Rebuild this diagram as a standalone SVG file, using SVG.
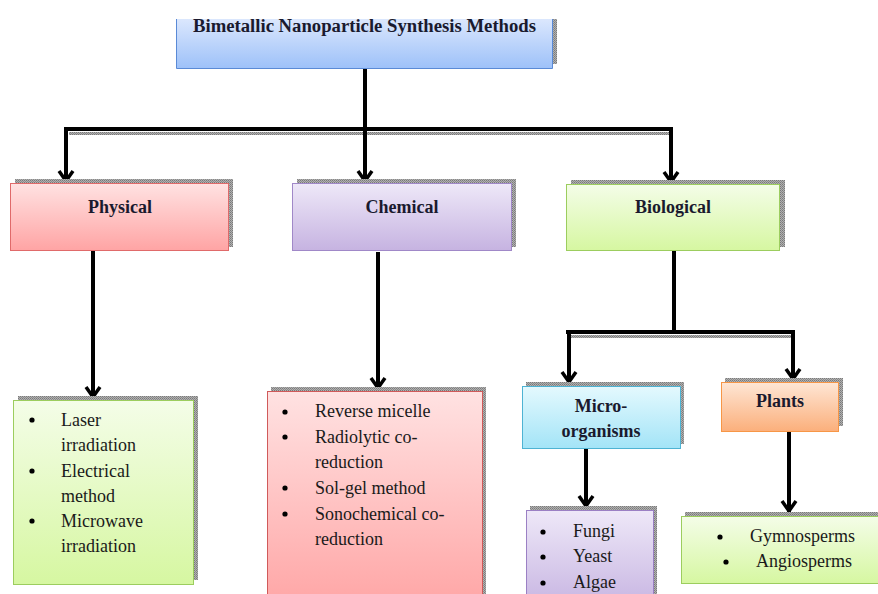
<svg xmlns="http://www.w3.org/2000/svg" width="878" height="594" viewBox="0 0 878 594">
<defs>
<linearGradient id="gBlue" x1="0" y1="0" x2="0" y2="1"><stop offset="0" stop-color="#dbe7fd"/><stop offset="1" stop-color="#9dc1f9"/></linearGradient>
<linearGradient id="gPink" x1="0" y1="0" x2="0" y2="1"><stop offset="0" stop-color="#ffe2e2"/><stop offset="1" stop-color="#ffa4a4"/></linearGradient>
<linearGradient id="gPurple" x1="0" y1="0" x2="0" y2="1"><stop offset="0" stop-color="#eee8f8"/><stop offset="1" stop-color="#c6b3e1"/></linearGradient>
<linearGradient id="gGreen" x1="0" y1="0" x2="0" y2="1"><stop offset="0" stop-color="#f4fde8"/><stop offset="1" stop-color="#d6f7a1"/></linearGradient>
<linearGradient id="gCyan" x1="0" y1="0" x2="0" y2="1"><stop offset="0" stop-color="#e4f9fe"/><stop offset="1" stop-color="#a3e4f7"/></linearGradient>
<linearGradient id="gOrange" x1="0" y1="0" x2="0" y2="1"><stop offset="0" stop-color="#fee6d5"/><stop offset="1" stop-color="#fbaf7b"/></linearGradient>
<pattern id="shade" width="2" height="2" patternUnits="userSpaceOnUse"><rect width="2" height="2" fill="#b0b0b0"/><rect width="1" height="1" fill="#7a7a7a"/><rect x="1" y="1" width="1" height="1" fill="#8a8a8a"/></pattern>
<marker id="arr" markerUnits="userSpaceOnUse" markerWidth="20" markerHeight="20" refX="0" refY="0" viewBox="-14 -10 16 20" orient="auto" overflow="visible">
<path d="M-11,-7 L-1,0 L-11,7" fill="none" stroke="#000" stroke-width="3.5" stroke-linejoin="miter"/>
</marker>
</defs>
<style>
.sh{fill:url(#shade)}
.lbl{font-family:"Liberation Serif","Times New Roman",serif;font-weight:bold;font-size:18px;fill:#1a1a2e;text-anchor:middle}
.txt{font-family:"Liberation Serif","Times New Roman",serif;font-size:18px;fill:#1a1a1a}
.bul{fill:#000}
.con{fill:none;stroke:#000;stroke-width:4}
.conA{fill:none;stroke:#000;stroke-width:4;marker-end:url(#arr)}
.csh{fill:none;stroke:url(#shade);stroke-width:3}
</style>
<rect width="878" height="594" fill="#fff"/>

<g id="connectors">
<path class="csh" d="M69,133.5 H672"/>
<path class="csh" d="M570,336.5 H793"/>
<path class="con" d="M365,68 V129"/>
<path class="con" d="M65,129 H673"/>
<path class="conA" d="M66,127 V182"/>
<path class="conA" d="M365,129 V182"/>
<path class="conA" d="M671,127 V183"/>
<path class="conA" d="M93,251 V398"/>
<path class="conA" d="M378,252 V389"/>
<path class="con" d="M674,251 V332"/>
<path class="con" d="M566,332 H795"/>
<path class="conA" d="M569,330 V383"/>
<path class="conA" d="M793,330 V380"/>
<path class="conA" d="M586,448 V507"/>
<path class="conA" d="M789,431 V512"/>
</g>

<g id="root">
<rect class="sh" x="552" y="19" width="5" height="45"/>
<rect x="176.5" y="19" width="376" height="49.5" fill="url(#gBlue)"/>
<path d="M176.5,19 V68.5 H552.5 V19" fill="none" stroke="#5a8ad6" stroke-width="1"/>
<text class="lbl" x="364.5" y="32" textLength="343" lengthAdjust="spacingAndGlyphs">Bimetallic Nanoparticle Synthesis Methods</text>
</g>

<g id="physical">
<rect class="sh" x="15" y="179" width="218" height="68"/>
<rect x="10.5" y="183.5" width="218" height="67" fill="url(#gPink)" stroke="#e06a6a" stroke-width="1"/>
<text class="lbl" x="120" y="213">Physical</text>
</g>

<g id="chemical">
<rect class="sh" x="297" y="179" width="219" height="68"/>
<rect x="292.5" y="183.5" width="219" height="67" fill="url(#gPurple)" stroke="#a088c8" stroke-width="1"/>
<text class="lbl" x="402" y="213">Chemical</text>
</g>

<g id="biological">
<rect class="sh" x="571" y="180" width="214" height="67"/>
<rect x="566.5" y="184.5" width="213" height="66" fill="url(#gGreen)" stroke="#9ccd5e" stroke-width="1"/>
<text class="lbl" x="673" y="213">Biological</text>
</g>

<g id="physical-list">
<rect class="sh" x="18" y="396" width="180" height="184"/>
<rect x="13.5" y="400.5" width="180" height="184" fill="url(#gGreen)" stroke="#9ccd5e" stroke-width="1"/>
<circle class="bul" cx="32" cy="420" r="2.6"/>
<circle class="bul" cx="32" cy="471" r="2.6"/>
<circle class="bul" cx="32" cy="521" r="2.6"/>
<text class="txt" x="61" y="426">Laser</text>
<text class="txt" x="61" y="451">irradiation</text>
<text class="txt" x="61" y="477">Electrical</text>
<text class="txt" x="61" y="502">method</text>
<text class="txt" x="61" y="527">Microwave</text>
<text class="txt" x="61" y="552">irradiation</text>
</g>

<g id="chemical-list">
<rect class="sh" x="271" y="387" width="215" height="220"/>
<rect x="267.5" y="391.5" width="215" height="220" fill="url(#gPink)" stroke="#d05a5a" stroke-width="1"/>
<circle class="bul" cx="285" cy="412" r="2.6"/>
<circle class="bul" cx="285" cy="437" r="2.6"/>
<circle class="bul" cx="285" cy="488" r="2.6"/>
<circle class="bul" cx="285" cy="514" r="2.6"/>
<text class="txt" x="315" y="417">Reverse micelle</text>
<text class="txt" x="315" y="443">Radiolytic co-</text>
<text class="txt" x="315" y="468">reduction</text>
<text class="txt" x="315" y="494">Sol-gel method</text>
<text class="txt" x="315" y="520">Sonochemical co-</text>
<text class="txt" x="315" y="545">reduction</text>
</g>

<g id="microorganisms">
<rect class="sh" x="526" y="382" width="158" height="62"/>
<rect x="522.5" y="386.5" width="158" height="62" fill="url(#gCyan)" stroke="#4eb3d3" stroke-width="1"/>
<text class="lbl" x="601" y="412">Micro-</text>
<text class="lbl" x="601" y="437">organisms</text>
</g>

<g id="plants">
<rect class="sh" x="725" y="378" width="118" height="48"/>
<rect x="721.5" y="382.5" width="117" height="49" fill="url(#gOrange)" stroke="#f79646" stroke-width="1"/>
<text class="lbl" x="780" y="407">Plants</text>
</g>

<g id="micro-list">
<rect class="sh" x="530" y="506" width="127" height="100"/>
<rect x="526.5" y="510.5" width="127" height="100" fill="url(#gPurple)" stroke="#9b80c4" stroke-width="1"/>
<circle class="bul" cx="543" cy="532" r="2.6"/>
<circle class="bul" cx="543" cy="557" r="2.6"/>
<circle class="bul" cx="543" cy="583" r="2.6"/>
<text class="txt" x="573" y="537">Fungi</text>
<text class="txt" x="573" y="562">Yeast</text>
<text class="txt" x="573" y="588">Algae</text>
</g>

<g id="plants-list">
<rect class="sh" x="685" y="512" width="200" height="67"/>
<rect x="681.5" y="516.5" width="210" height="67" fill="url(#gGreen)" stroke="#9ccd5e" stroke-width="1"/>
<circle class="bul" cx="720" cy="537" r="2.6"/>
<circle class="bul" cx="726" cy="562" r="2.6"/>
<text class="txt" x="750" y="542">Gymnosperms</text>
<text class="txt" x="756" y="567">Angiosperms</text>
</g>
</svg>
